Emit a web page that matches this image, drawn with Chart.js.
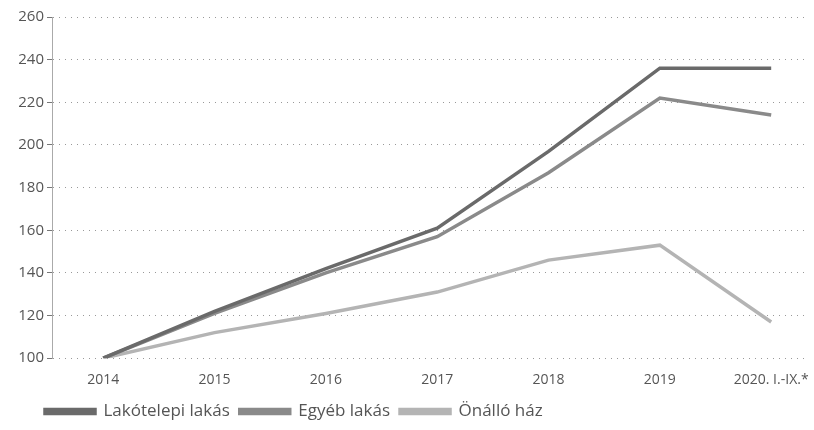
<!DOCTYPE html>
<html>
<head>
<meta charset="utf-8">
<script src="https://cdn.jsdelivr.net/npm/chart.js@4"></script>
<style>
html,body{margin:0;padding:0;background:#fff;}
canvas{display:block;}
</style>
</head>
<body>
<canvas id="c" width="814" height="430"></canvas>
<script>
const categories = ["2014", "2015", "2016", "2017", "2018", "2019", "2020. I.-IX.*"];
const lakotelepi = [100, 122, 142, 161, 197, 236, 236];
const egyeb = [100, 121, 140, 157, 187, 222, 214];
const onallo = [100, 112, 121, 131, 146, 153, 117];
const yTicks = [100, 120, 140, 160, 180, 200, 220, 240, 260];

const FONT = "'Open Sans', 'Noto Sans', sans-serif";
const toPts = arr => arr.map((v, i) => ({x: i, y: v}));

function ds(label, data, color) {
  return {
    label, data: toPts(data),
    borderColor: color, backgroundColor: color,
    borderWidth: 3.5, pointRadius: 0, tension: 0, fill: false
  };
}

const legendShift = {
  id: 'legendShift',
  afterLayout(chart) {
    if (chart.legend) { chart.legend.left += 35; chart.legend.right += 35; }
  }
};

new Chart(document.getElementById('c'), {
  type: 'line',
  data: {
    datasets: [
      ds('Lakótelepi lakás', lakotelepi, '#6a6a6a'),
      ds('Egyéb lakás', egyeb, '#8a8a8a'),
      ds('Önálló ház', onallo, '#b4b4b4')
    ]
  },
  plugins: [legendShift],
  options: {
    responsive: false,
    animation: false,
    layout: {padding: {left: 0, right: 9, top: 17, bottom: 0}},
    plugins: {
      tooltip: {enabled: false},
      legend: {
        position: 'bottom', align: 'start',
        labels: {
          boxWidth: 50, boxHeight: 4, padding: 10,
          color: '#555', font: {family: FONT, size: 17}
        }
      }
    },
    scales: {
      x: {
        type: 'linear', min: -0.46, max: 6.3,
        afterBuildTicks: ax => { ax.ticks = categories.map((_, i) => ({value: i})); },
        ticks: {
          callback: v => categories[v],
          color: '#555', font: {family: FONT, size: 14},
          maxRotation: 0, autoSkip: false, padding: 5
        },
        grid: {display: false},
        border: {display: false}
      },
      y: {
        min: 100, max: 260,
        afterBuildTicks: ax => { ax.ticks = yTicks.map(v => ({value: v})); },
        afterFit: ax => { ax.width = 52; },
        ticks: {color: '#555', font: {family: FONT, size: 15}, padding: 3},
        grid: {
          color: '#999', lineWidth: 1, tickLength: 5,
          tickColor: '#777', tickBorderDash: [], borderDash: [1, 11]
        },
        border: {display: true, color: '#aaa', dash: [1, 5]}
      }
    }
  }
});
</script>
</body>
</html>
